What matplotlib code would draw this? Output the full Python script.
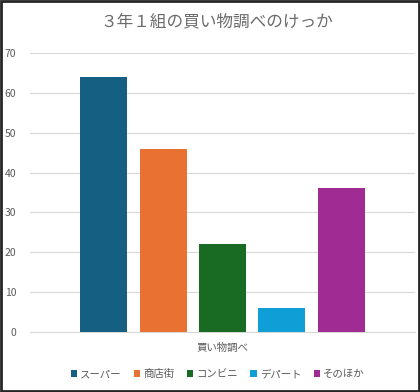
import matplotlib.pyplot as plt
from matplotlib.patches import Rectangle

plt.rcParams['font.family'] = ['Noto Sans CJK JP', 'DejaVu Sans']

# data
categories = ['スーパー', '商店街', 'コンビニ', 'デパート', 'そのほか']
values = [64, 46, 22, 6, 36]
colors = ['#156082', '#E97132', '#196B24', '#0F9ED5', '#A02B93']
group_label = '買い物調べ'
title = '３年１組の買い物調べのけっか'

fig = plt.figure(figsize=(4.2, 3.92), dpi=100)
ax = fig.add_axes([0.0714, 0.153, 0.9167, 0.712])

offsets = [i - (len(values) - 1) / 2 for i in range(len(values))]
for x, v, c, lab in zip(offsets, values, colors, categories):
    ax.bar(x, v, width=0.79, color=c, label=lab, zorder=3)

ax.set_xlim(-3.24, 3.24)
ax.set_ylim(0, 70)
ax.set_yticks(range(0, 71, 10))
ax.set_xticks([])
ax.grid(axis='y', color='#D9D9D9', linewidth=0.8, zorder=0)
for s in ['top', 'right', 'left']:
    ax.spines[s].set_visible(False)
ax.spines['bottom'].set_color('#D9D9D9')
ax.tick_params(axis='y', length=0, labelsize=7.5, labelcolor='#595959', pad=10)

fig.text(0.517, 0.944, title, ha='center', va='center', fontsize=12, color='#6b6b6b')
fig.text(0.53, 0.113, group_label, ha='center', va='center', fontsize=7.5, color='#595959')

leg = fig.legend(loc='center', bbox_to_anchor=(0.518, 0.046), ncol=5, frameon=False,
                 fontsize=7.5, handlelength=0.6, handleheight=0.6, handletextpad=0.3,
                 columnspacing=1.2, labelcolor='#595959')

fig.add_artist(Rectangle((0.002, 0.002), 0.996, 0.996, transform=fig.transFigure,
                         fill=False, edgecolor='#262626', linewidth=2))

fig.savefig('out.png', dpi=100)
plt.close(fig)
